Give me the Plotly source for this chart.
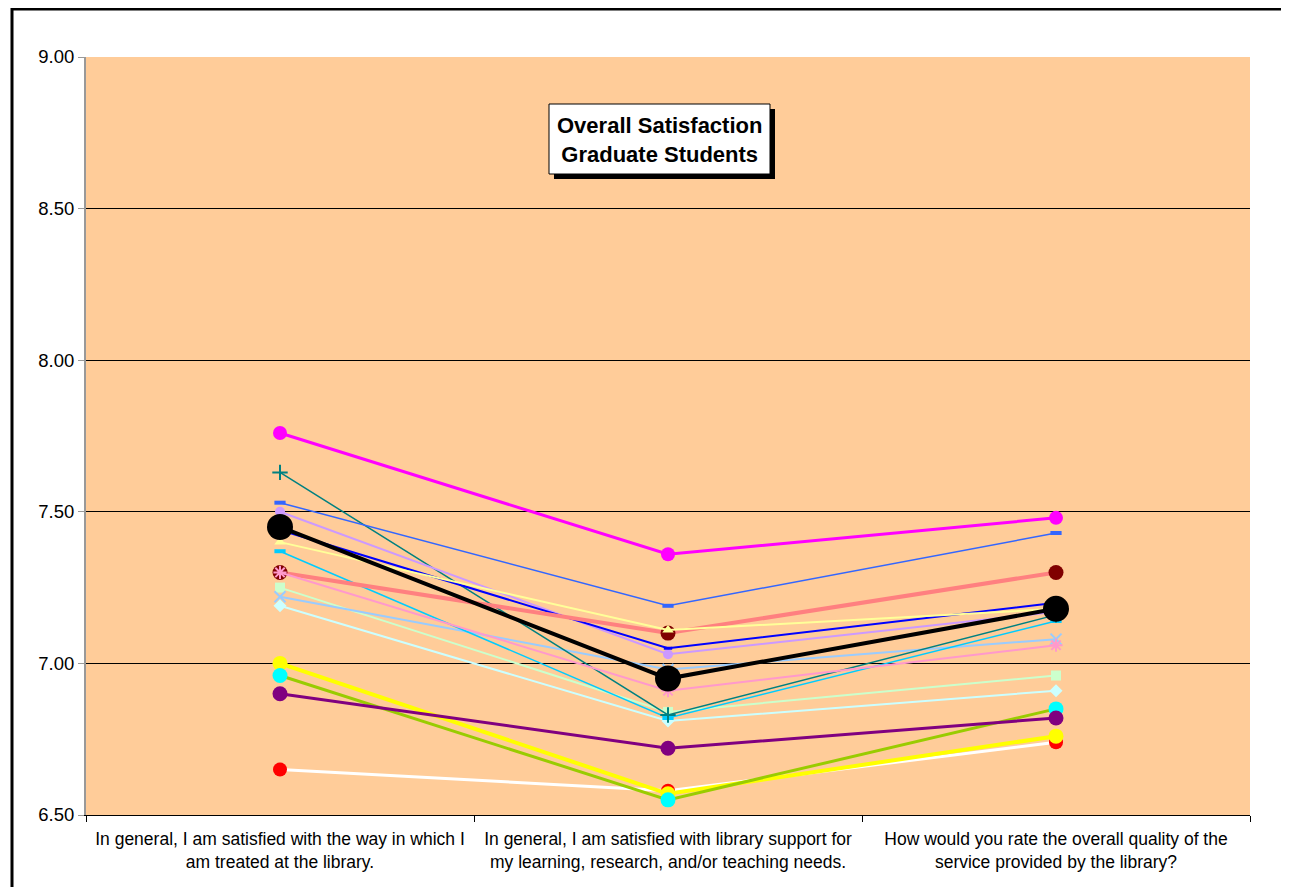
import plotly.graph_objects as go

categories = [
    "In general, I am satisfied with the way in which I<br>am treated at the library.",
    "In general, I am satisfied with library support for<br>my learning, research, and/or teaching needs.",
    "How would you rate the overall quality of the<br>service provided by the library?",
]

# series values (left, middle, right)
red_white = [6.65, 6.58, 6.74]
yellow = [7.00, 6.57, 6.76]
cyan_green = [6.96, 6.55, 6.85]
purple = [6.90, 6.72, 6.82]
light_cyan = [7.19, 6.81, 6.91]
light_green = [7.25, 6.84, 6.96]
light_blue = [7.22, 6.98, 7.08]
sky_blue = [7.37, 6.82, 7.14]
teal = [7.63, 6.83, 7.16]
lavender = [7.50, 7.03, 7.17]
dark_blue = [7.44, 7.05, 7.20]
royal_blue = [7.53, 7.19, 7.43]
salmon_maroon = [7.30, 7.10, 7.30]
pink = [7.30, 6.91, 7.06]
light_yellow = [7.40, 7.11, 7.18]
magenta = [7.76, 7.36, 7.48]
overall = [7.45, 6.95, 7.18]

series = [
    # values, line color, line width, marker symbol, marker color, marker size, marker line width
    (red_white, "#FFFFFF", 3, "circle", "#FF0000", 14, 0),
    (yellow, "#FFFF00", 4, "circle", "#FFFF00", 15, 0),
    (cyan_green, "#99CC00", 3, "circle", "#00FFFF", 15, 0),
    (purple, "#800080", 3, "circle", "#800080", 15, 0),
    (light_cyan, "#CCFFFF", 2, "diamond", "#CCFFFF", 10, 0),
    (light_green, "#CCFFCC", 2, "square", "#CCFFCC", 10, 0),
    (light_blue, "#99CCFF", 2, "x-thin-open", "#99CCFF", 11, 2),
    (sky_blue, "#00CCFF", 1.5, "line-ew-open", "#00CCFF", 8, 4),
    (teal, "#008080", 1.5, "cross-thin-open", "#008080", 11, 2),
    (lavender, "#CC99FF", 2, "circle", "#CC99FF", 10, 0),
    (dark_blue, "#0000FF", 2, "line-ew-open", "#0000FF", 6, 3),
    (royal_blue, "#3366FF", 1.5, "line-ew-open", "#3366FF", 8, 4),
    (salmon_maroon, "#FF8080", 4, "circle", "#800000", 15, 0),
    (pink, "#FF99CC", 2, "asterisk-open", "#FF99CC", 11, 2),
    (light_yellow, "#FFFF99", 2, "triangle-up", "#FFFF99", 10, 0),
    (magenta, "#FF00FF", 3, "circle", "#FF00FF", 14, 0),
    (overall, "#000000", 4, "circle", "#000000", 26, 0),
]

fig = go.Figure()
for vals, lc, lw, sym, mc, ms, mlw in series:
    marker = dict(symbol=sym, color=mc, size=ms)
    if mlw:
        marker["line"] = dict(color=mc, width=mlw)
    else:
        marker["line"] = dict(width=0)
    fig.add_trace(go.Scatter(
        x=categories, y=vals, mode="lines+markers",
        line=dict(color=lc, width=lw), marker=marker,
        showlegend=False, hoverinfo="y",
    ))

# page body has an 8px margin; figure coordinates below are page px minus 8
OFF = 8
W, H = 1289 - OFF, 887 - OFF
L, R, T, B = 86 - OFF, 1250 - OFF, 57 - OFF, 815 - OFF


def px(x):
    return (x - OFF - L) / (R - L)


def py(y):
    return (B - (y - OFF)) / (B - T)


shapes = [
    # outer frame
    dict(type="rect", xref="paper", yref="paper",
         x0=px(12), x1=px(1286), y0=py(900), y1=py(9),
         line=dict(color="#000000", width=3), fillcolor="rgba(0,0,0,0)", layer="above"),
    # title box shadow
    dict(type="rect", xref="paper", yref="paper",
         x0=px(554), x1=px(775), y0=py(179), y1=py(109),
         line=dict(width=0), fillcolor="#000000", layer="above"),
    # title box
    dict(type="rect", xref="paper", yref="paper",
         x0=px(549), x1=px(770), y0=py(174), y1=py(104),
         line=dict(color="#000000", width=1), fillcolor="#FFFFFF", layer="above"),
]

fig.update_layout(
    width=W, height=H,
    margin=dict(l=L, r=W - R, t=T, b=H - B),
    paper_bgcolor="#FFFFFF",
    plot_bgcolor="#FFCC99",
    font=dict(family="Liberation Sans, Arial, sans-serif", size=18, color="#000000"),
    shapes=shapes,
    annotations=[dict(
        xref="paper", yref="paper", x=px(659.5), y=py(140), showarrow=False,
        text="<b>Overall Satisfaction<br>Graduate Students</b>",
        font=dict(size=22, color="#000000", family="Liberation Sans, Arial, sans-serif"),
        xanchor="center", yanchor="middle",
    )],
)
fig.update_xaxes(
    type="category", range=[-0.5, 2.5],
    showline=True, linecolor="#000000", linewidth=1,
    ticks="outside", tickson="boundaries", ticklen=6, tickcolor="#000000",
    showgrid=False, tickfont=dict(size=17.5), ticklabelstandoff=8,
)
fig.update_yaxes(
    range=[6.5, 9.0], dtick=0.5, tickformat=".2f",
    showgrid=True, gridcolor="#000000", gridwidth=1,
    showline=True, linecolor="#999999", linewidth=2,
    ticks="outside", ticklen=6, tickcolor="#999999",
    zeroline=False, tickfont=dict(size=18.5),
)

fig.write_html("out.html")
